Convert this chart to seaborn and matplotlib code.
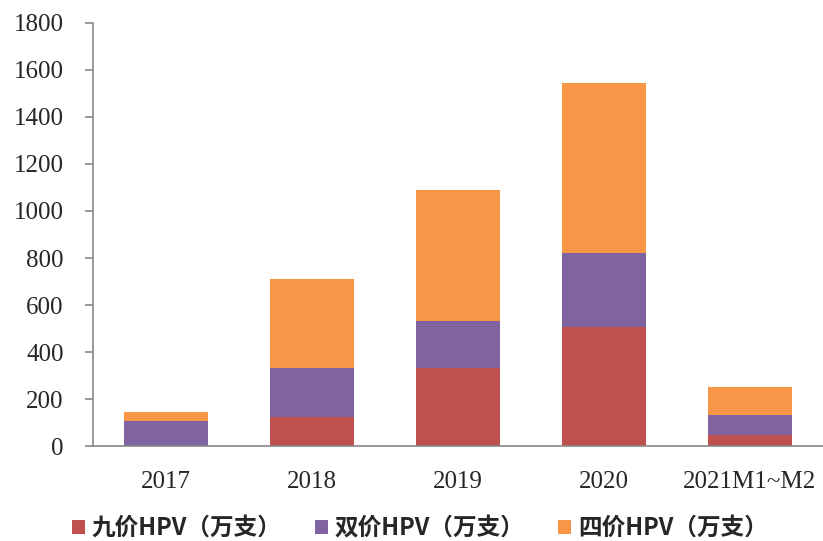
import pandas as pd
import numpy as np
import matplotlib
matplotlib.use('Agg')
import matplotlib.pyplot as plt
import seaborn as sns
from matplotlib.patches import Patch

# ---- data (万支) ----
years = ['2017', '2018', '2019', '2020', '2021M1~M2']
nine_val = [0, 123, 331, 506, 47]      # 九价HPV
two_val = [109, 208, 200, 314, 86]     # 双价HPV
four_val = [35, 380, 558, 722, 120]    # 四价HPV

RED = '#C0504D'; PURPLE = '#8064A2'; ORANGE = '#F79646'
LABELS = ['九价HPV（万支）', '双价HPV（万支）', '四价HPV（万支）']

df = pd.DataFrame({'year': years, 'nine': nine_val, 'two': two_val, 'four': four_val})
df['c_nine'] = df['nine']
df['c_two'] = df['nine'] + df['two']
df['c_four'] = df['c_two'] + df['four']

sns.set_style('white')
plt.rcParams['font.family'] = ['Liberation Serif', 'DejaVu Serif']

fig = plt.figure(figsize=(8.23, 5.41), dpi=100)
ax = fig.add_axes([0.113, 0.175, 0.887, 0.783])

# stacked bars drawn as layered cumulative totals
for col, color in [('c_four', ORANGE), ('c_two', PURPLE), ('c_nine', RED)]:
    sns.barplot(data=df, x='year', y=col, color=color, saturation=1,
                width=0.57, linewidth=0, ax=ax, order=years)

ax.set_xlim(-0.5, 4.5)
ax.set_ylim(0, 1800)
ax.set_yticks(range(0, 1801, 200))
ax.set_xlabel('')
ax.set_ylabel('')

for s in ['top', 'right']:
    ax.spines[s].set_visible(False)
for s in ['left', 'bottom']:
    ax.spines[s].set_color('#888888')
    ax.spines[s].set_linewidth(1.2)

ax.tick_params(axis='y', which='both', left=True, length=6, width=1.2,
               color='#888888', labelsize=18, pad=15)
ax.tick_params(axis='x', which='both', bottom=False, labelsize=18, pad=14)

handles = [Patch(facecolor=c, edgecolor='none') for c in [RED, PURPLE, ORANGE]]
leg = fig.legend(handles, LABELS, loc='center', bbox_to_anchor=(0.51, 0.024),
                 ncol=3, frameon=False, handlelength=0.55, handleheight=0.55,
                 handletextpad=0.3, columnspacing=1.4,
                 prop={'family': ['Noto Sans CJK SC', 'DejaVu Sans'],
                       'weight': 'bold', 'size': 17})

plt.savefig('out.png', dpi=100, facecolor='white')
